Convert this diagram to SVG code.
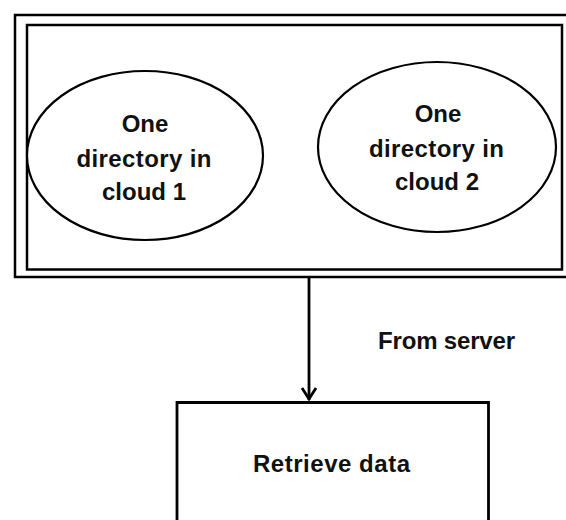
<svg xmlns="http://www.w3.org/2000/svg" width="566" height="520" viewBox="0 0 566 520">
  <style>
    .frame { fill: none; stroke: #000; stroke-width: 2.5; }
    .oval { fill: #fff; stroke: #000; stroke-width: 2.2; }
    .box { fill: #fff; stroke: #000; stroke-width: 2.8; }
    .label { font-family: "Liberation Sans", Arial, sans-serif; font-weight: bold; font-size: 24px; fill: #111; text-anchor: middle; }
    .wire { fill: none; stroke: #000; stroke-width: 2.8; }
  </style>
  <rect width="566" height="520" fill="#fff"/>

  <!-- double-lined container holding both cloud directories -->
  <g id="cloud-container">
    <path class="frame" d="M568,15 H15 V277 H568"/>
    <rect class="frame" x="27" y="25" width="535" height="244.5"/>
  </g>

  <g id="cloud1">
    <ellipse class="oval" cx="145" cy="155.5" rx="118" ry="84.5"/>
    <text class="label" x="145" y="132">One</text>
    <text class="label" x="144" y="166.5" textLength="135">directory in</text>
    <text class="label" x="144" y="200">cloud 1</text>
  </g>

  <g id="cloud2">
    <ellipse class="oval" cx="437" cy="147" rx="119" ry="85"/>
    <text class="label" x="438" y="122">One</text>
    <text class="label" x="436.5" y="156.5" textLength="135">directory in</text>
    <text class="label" x="437" y="189.5">cloud 2</text>
  </g>

  <g id="retrieve">
    <path class="box" d="M177,524 V402.5 H488.5 V524"/>
    <text class="label" x="331.5" y="471.5" textLength="157">Retrieve data</text>
  </g>

  <g id="connectors">
    <line class="wire" x1="309" y1="278" x2="309" y2="400"/>
    <polyline class="wire" points="302,388 309,399 316,388" stroke-linejoin="miter"/>
    <text class="label" x="446.5" y="349" textLength="137">From server</text>
  </g>
</svg>
